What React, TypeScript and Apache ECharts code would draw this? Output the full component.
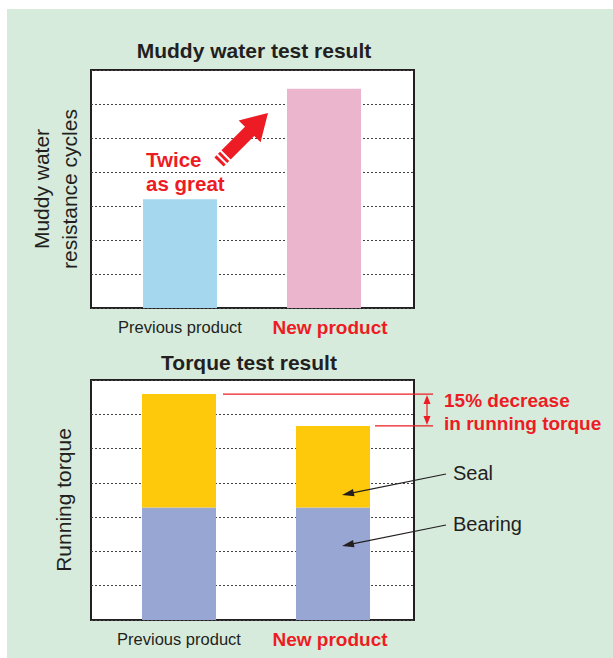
import React, { useEffect, useRef } from 'react';
import * as echarts from 'echarts';

// ---- data ----
const categories = ['Previous product', 'New product'];
const muddyCycles = [3.2, 6.45];
const bearingTorque = [3.28, 3.28];
const sealTorque = [3.31, 2.38];
const axisMax = 7;

const RED = '#ed1c24';
const DARK = '#231f20';
const GREEN = '#d7ebdd';
const FONT = '"Liberation Sans", Arial, Helvetica, sans-serif';

type P = [number, number];
function arrowParts(tail: P, tip: P, h: number, headLen: number, H: number) {
  const dx = tip[0] - tail[0];
  const dy = tip[1] - tail[1];
  const L = Math.hypot(dx, dy);
  const u = [dx / L, dy / L];
  const p = [-u[1], u[0]];
  const pt = (s: number, w: number): P => [tail[0] + u[0] * s + p[0] * w, tail[1] + u[1] * s + p[1] * w];
  const seg = (a: number, b: number) => [pt(a, -h), pt(b, -h), pt(b, h), pt(a, h)];
  const b = L - headLen;
  return [
    seg(0, 3),
    seg(5, 8),
    [pt(10, -h), pt(b, -h), pt(b, -H), pt(L, 0), pt(b, H), pt(b, h), pt(10, h)],
  ];
}

function headPts(from: P, tip: P, len: number, half: number): P[] {
  const dx = tip[0] - from[0];
  const dy = tip[1] - from[1];
  const L = Math.hypot(dx, dy);
  const u = [dx / L, dy / L];
  const p = [-u[1], u[0]];
  const bx = tip[0] - u[0] * len;
  const by = tip[1] - u[1] * len;
  return [tip, [bx + p[0] * half, by + p[1] * half], [bx - p[0] * half, by - p[1] * half]];
}

export default function App() {
  const ref = useRef<HTMLDivElement>(null);
  useEffect(() => {
    if (!ref.current) return;
    const chart = echarts.init(ref.current, null, { renderer: 'svg' });

    const frameY = (name: string, gridIndex: number, nameGap: number) => ({
      type: 'value',
      gridIndex,
      min: 0,
      max: axisMax,
      interval: 1,
      axisLine: { show: false },
      axisTick: { show: false },
      axisLabel: { show: false },
      splitLine: { show: true, lineStyle: { color: '#444', width: 1, type: [2, 2] } },
      name,
      nameLocation: 'middle',
      nameGap,
      nameTextStyle: { color: DARK, fontSize: 21, lineHeight: 28, fontFamily: FONT },
    });
    const innerY = (gridIndex: number) => ({
      type: 'value', gridIndex, min: 0, max: axisMax, show: false, splitLine: { show: false },
    });
    const catAxis = (gridIndex: number, newPad: number[]) => ({
      type: 'category',
      gridIndex,
      data: [
        { value: categories[0], textStyle: { color: DARK, fontSize: 16.5, fontFamily: FONT } },
        { value: categories[1], textStyle: { color: RED, fontSize: 19, fontWeight: 'bold', fontFamily: FONT, padding: newPad } },
      ],
      axisLine: { show: false },
      axisTick: { show: false },
      axisLabel: { margin: 10, verticalAlign: 'top' },
    });
    const frameX = (gridIndex: number) => ({ type: 'value', gridIndex, min: 0, max: 1, show: false, splitLine: { show: false } });

    chart.setOption({
      animation: false,
      backgroundColor: GREEN,
      title: [
        { text: 'Muddy water test result', left: 249, top: 35, textAlign: 'center',
          textStyle: { fontSize: 21, fontWeight: 'bold', color: DARK, fontFamily: FONT } },
        { text: 'Torque test result', left: 244, top: 347, textAlign: 'center',
          textStyle: { fontSize: 21, fontWeight: 'bold', color: DARK, fontFamily: FONT } },
      ],
      grid: [
        { left: 91, top: 70, width: 323, height: 238, show: true, backgroundColor: '#fff', borderColor: DARK, borderWidth: 2 },
        { left: 108, top: 70, width: 288, height: 238 },
        { left: 91, top: 380, width: 323, height: 240, show: true, backgroundColor: '#fff', borderColor: DARK, borderWidth: 2 },
        { left: 102, top: 380, width: 308, height: 240 },
      ],
      xAxis: [frameX(0), catAxis(1, [0, 0, 0, 12]), frameX(2), catAxis(3, [0, 6, 0, 0])],
      yAxis: [
        frameY('Muddy water\nresistance cycles', 0, 8),
        innerY(1),
        frameY('Running torque', 2, 14),
        innerY(3),
      ],
      series: [
        {
          type: 'bar', xAxisIndex: 1, yAxisIndex: 1, barWidth: 74,
          data: muddyCycles.map((v, i) => ({ value: v, itemStyle: { color: i === 0 ? '#a5d7ee' : '#ebb6cd' } })),
        },
        {
          type: 'bar', name: 'Bearing', stack: 't', xAxisIndex: 3, yAxisIndex: 3, barWidth: 74,
          itemStyle: { color: '#98a6d4' }, data: bearingTorque,
        },
        {
          type: 'bar', name: 'Seal', stack: 't', xAxisIndex: 3, yAxisIndex: 3, barWidth: 74,
          itemStyle: { color: '#fec90b' }, data: sealTorque,
        },
      ],
    });

    // annotation positions derived from the axes
    const prevTotal = bearingTorque[0] + sealTorque[0];
    const newTotal = bearingTorque[1] + sealTorque[1];
    const yPrev = chart.convertToPixel({ yAxisIndex: 3 }, prevTotal) as number;
    const yNew = chart.convertToPixel({ yAxisIndex: 3 }, newTotal) as number;
    const ax = 427;

    const redArrow = arrowParts([219, 162], [268, 113], 6.5, 26, 15.5);
    const sealArrowFrom: P = [446, 474];
    const sealArrowTo: P = [342, 495];
    const bearArrowFrom: P = [446, 525];
    const bearArrowTo: P = [342, 546];

    const txt = (text: string, x: number, y: number, fontSize: number, color: string, bold: boolean, align = 'left') => ({
      type: 'text', z: 50,
      style: {
        text, x, y, fill: color, fontSize, fontWeight: bold ? 'bold' : 'normal', fontFamily: FONT,
        textAlign: align, textVerticalAlign: 'middle', align, verticalAlign: 'middle',
      },
    });

    chart.setOption({
      graphic: [
        { type: 'rect', z: 100, shape: { x: 0, y: 0, width: 613, height: 9 }, style: { fill: '#fff' } },
        { type: 'rect', z: 100, shape: { x: 0, y: 0, width: 7, height: 658 }, style: { fill: '#fff' } },
        // Twice as great
        txt('Twice', 146, 159, 20.5, RED, true),
        txt('as great', 146, 183, 20.5, RED, true),
        ...redArrow.map((pts) => ({ type: 'polygon', z: 50, shape: { points: pts }, style: { fill: RED } })),
        // 15% decrease
        { type: 'line', z: 50, shape: { x1: 223, y1: yPrev, x2: 433, y2: yPrev }, style: { stroke: RED, lineWidth: 1.2 } },
        { type: 'line', z: 50, shape: { x1: 375, y1: yNew, x2: 433, y2: yNew }, style: { stroke: RED, lineWidth: 1.2 } },
        { type: 'line', z: 50, shape: { x1: ax, y1: yPrev + 4, x2: ax, y2: yNew - 4 }, style: { stroke: RED, lineWidth: 1.2 } },
        { type: 'polygon', z: 50, shape: { points: [[ax, yPrev + 1], [ax - 3.5, yPrev + 10], [ax + 3.5, yPrev + 10]] }, style: { fill: RED } },
        { type: 'polygon', z: 50, shape: { points: [[ax, yNew - 1], [ax - 3.5, yNew - 10], [ax + 3.5, yNew - 10]] }, style: { fill: RED } },
        txt('15% decrease', 444, 400, 19, RED, true),
        txt('in running torque', 444, 423, 19, RED, true),
        // Seal / Bearing
        txt('Seal', 453, 473, 20, DARK, false),
        txt('Bearing', 453, 524, 20, DARK, false),
        { type: 'line', z: 50, shape: { x1: sealArrowFrom[0], y1: sealArrowFrom[1], x2: sealArrowTo[0] + 8, y2: sealArrowTo[1] - 1.6 }, style: { stroke: DARK, lineWidth: 1.2 } },
        { type: 'polygon', z: 50, shape: { points: headPts(sealArrowFrom, sealArrowTo, 12, 3.8) }, style: { fill: DARK } },
        { type: 'line', z: 50, shape: { x1: bearArrowFrom[0], y1: bearArrowFrom[1], x2: bearArrowTo[0] + 8, y2: bearArrowTo[1] - 1.6 }, style: { stroke: DARK, lineWidth: 1.2 } },
        { type: 'polygon', z: 50, shape: { points: headPts(bearArrowFrom, bearArrowTo, 12, 3.8) }, style: { fill: DARK } },
      ],
    });

    return () => chart.dispose();
  }, []);

  return <div ref={ref} style={{ position: 'absolute', left: 0, top: 0, width: 613, height: 658 }} />;
}
